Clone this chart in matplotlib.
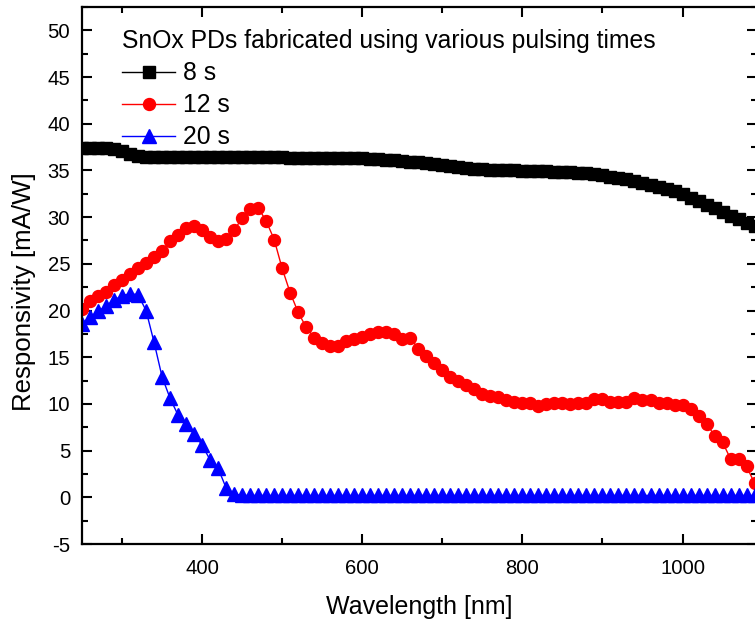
import matplotlib
matplotlib.use("Agg")
import matplotlib.pyplot as plt
from matplotlib.ticker import MultipleLocator

# Wavelength grid [nm]
wavelength = [
    250, 260, 270, 280, 290, 300, 310, 320, 330, 340,
    350, 360, 370, 380, 390, 400, 410, 420, 430, 440,
    450, 460, 470, 480, 490, 500, 510, 520, 530, 540,
    550, 560, 570, 580, 590, 600, 610, 620, 630, 640,
    650, 660, 670, 680, 690, 700, 710, 720, 730, 740,
    750, 760, 770, 780, 790, 800, 810, 820, 830, 840,
    850, 860, 870, 880, 890, 900, 910, 920, 930, 940,
    950, 960, 970, 980, 990, 1000, 1010, 1020, 1030, 1040,
    1050, 1060, 1070, 1080, 1090,
]

# Responsivity [mA/W] for each pulsing time
resp_8s = [
    37.40, 37.45, 37.45, 37.40, 37.30, 37.05, 36.75, 36.55, 36.45, 36.45,
    36.45, 36.45, 36.45, 36.45, 36.45, 36.45, 36.45, 36.45, 36.45, 36.45,
    36.45, 36.45, 36.40, 36.40, 36.40, 36.40, 36.35, 36.35, 36.35, 36.35,
    36.35, 36.30, 36.30, 36.30, 36.30, 36.30, 36.25, 36.20, 36.15, 36.10,
    36.05, 35.95, 35.85, 35.75, 35.65, 35.55, 35.45, 35.35, 35.25, 35.20,
    35.15, 35.10, 35.05, 35.00, 35.00, 34.95, 34.90, 34.90, 34.90, 34.85,
    34.85, 34.80, 34.75, 34.70, 34.60, 34.50, 34.35, 34.20, 34.05, 33.85,
    33.65, 33.45, 33.25, 33.00, 32.75, 32.45, 32.10, 31.75, 31.35, 30.95,
    30.55, 30.15, 29.75, 29.40, 29.10,
]

resp_12s = [
    20.2, 21.0, 21.6, 22.0, 22.7, 23.3, 23.9, 24.5, 25.1, 25.7,
    26.4, 27.4, 28.1, 28.8, 29.0, 28.6, 27.9, 27.4, 27.7, 28.6,
    29.9, 30.9, 31.0, 29.6, 27.6, 24.5, 21.9, 19.8, 18.2, 17.1,
    16.5, 16.2, 16.2, 16.7, 16.9, 17.2, 17.5, 17.7, 17.7, 17.5,
    17.0, 17.1, 15.9, 15.1, 14.4, 13.6, 12.9, 12.4, 12.0, 11.6,
    11.1, 10.9, 10.7, 10.45, 10.2, 10.1, 10.1, 9.8, 10.0, 10.1,
    10.1, 10.0, 10.1, 10.1, 10.5, 10.5, 10.2, 10.2, 10.2, 10.6,
    10.4, 10.4, 10.1, 10.1, 9.9, 9.9, 9.5, 8.7, 7.9, 6.6,
    5.9, 4.1, 4.1, 3.3, 1.5,
]

resp_20s = [
    18.6, 19.3, 19.9, 20.5, 21.1, 21.6, 21.8, 21.7, 20.0, 16.6,
    12.9, 10.6, 8.8, 7.8, 6.8, 5.6, 4.0, 3.1, 1.0, 0.35,
    0.2, 0.2, 0.2, 0.2, 0.2, 0.2, 0.2, 0.2, 0.2, 0.2,
    0.2, 0.2, 0.2, 0.2, 0.2, 0.2, 0.2, 0.2, 0.2, 0.2,
    0.2, 0.2, 0.2, 0.2, 0.2, 0.2, 0.2, 0.2, 0.2, 0.2,
    0.2, 0.2, 0.2, 0.2, 0.2, 0.2, 0.2, 0.2, 0.2, 0.2,
    0.2, 0.2, 0.2, 0.2, 0.2, 0.2, 0.2, 0.2, 0.2, 0.2,
    0.2, 0.2, 0.2, 0.2, 0.2, 0.2, 0.2, 0.2, 0.2, 0.2,
    0.2, 0.2, 0.2, 0.2, 0.2,
]

series_labels = ["8 s", "12 s", "20 s"]
legend_title = "SnOx PDs fabricated using various pulsing times"
x_label = "Wavelength [nm]"
y_label = "Responsivity [mA/W]"

plt.rcParams['font.family'] = ['Liberation Sans', 'DejaVu Sans']
plt.rcParams['axes.unicode_minus'] = False

W, H = 755, 627
fig = plt.figure(figsize=(W / 100, H / 100), dpi=100)
ax = fig.add_axes([82 / W, 1 - 544 / H, 675 / W, 537 / H])

ax.plot(wavelength, resp_8s, color="black", lw=1.0, marker="s", ms=8.6,
        mec="black", mfc="black", label=series_labels[0])
ax.plot(wavelength, resp_12s, color="red", lw=1.0, marker="o", ms=8.6,
        mec="red", mfc="red", label=series_labels[1])
ax.plot(wavelength, resp_20s, color="blue", lw=1.0, marker="^", ms=9.8,
        mec="blue", mfc="blue", label=series_labels[2])

ax.set_xlim(250, 1093)
ax.set_ylim(-5, 52.5)
ax.xaxis.set_major_locator(MultipleLocator(200))
ax.xaxis.set_minor_locator(MultipleLocator(100))
ax.yaxis.set_major_locator(MultipleLocator(5))
ax.yaxis.set_minor_locator(MultipleLocator(2.5))

ax.tick_params(which="both", direction="in", top=True, right=True,
               width=1.5, labelsize=14.6, colors="black")
ax.tick_params(which="major", length=7)
ax.tick_params(which="minor", length=4)
ax.tick_params(axis="x", pad=11)
ax.tick_params(axis="y", pad=8.5)
for sp in ax.spines.values():
    sp.set_linewidth(1.6)

ax.set_xlabel(x_label, fontsize=18, labelpad=12)
ax.set_ylabel(y_label, fontsize=18.6, labelpad=8)
ax.yaxis.label.set_y(0.47)

leg = ax.legend(title=legend_title, loc="upper left",
                bbox_to_anchor=(40 / 675, 1 - 22 / 537),
                frameon=False, fontsize=17.8, title_fontsize=17.8,
                handlelength=2.15, handletextpad=0.32, labelspacing=0.33,
                borderpad=0, borderaxespad=0, alignment="left")

fig.savefig("out.png", dpi=100)
